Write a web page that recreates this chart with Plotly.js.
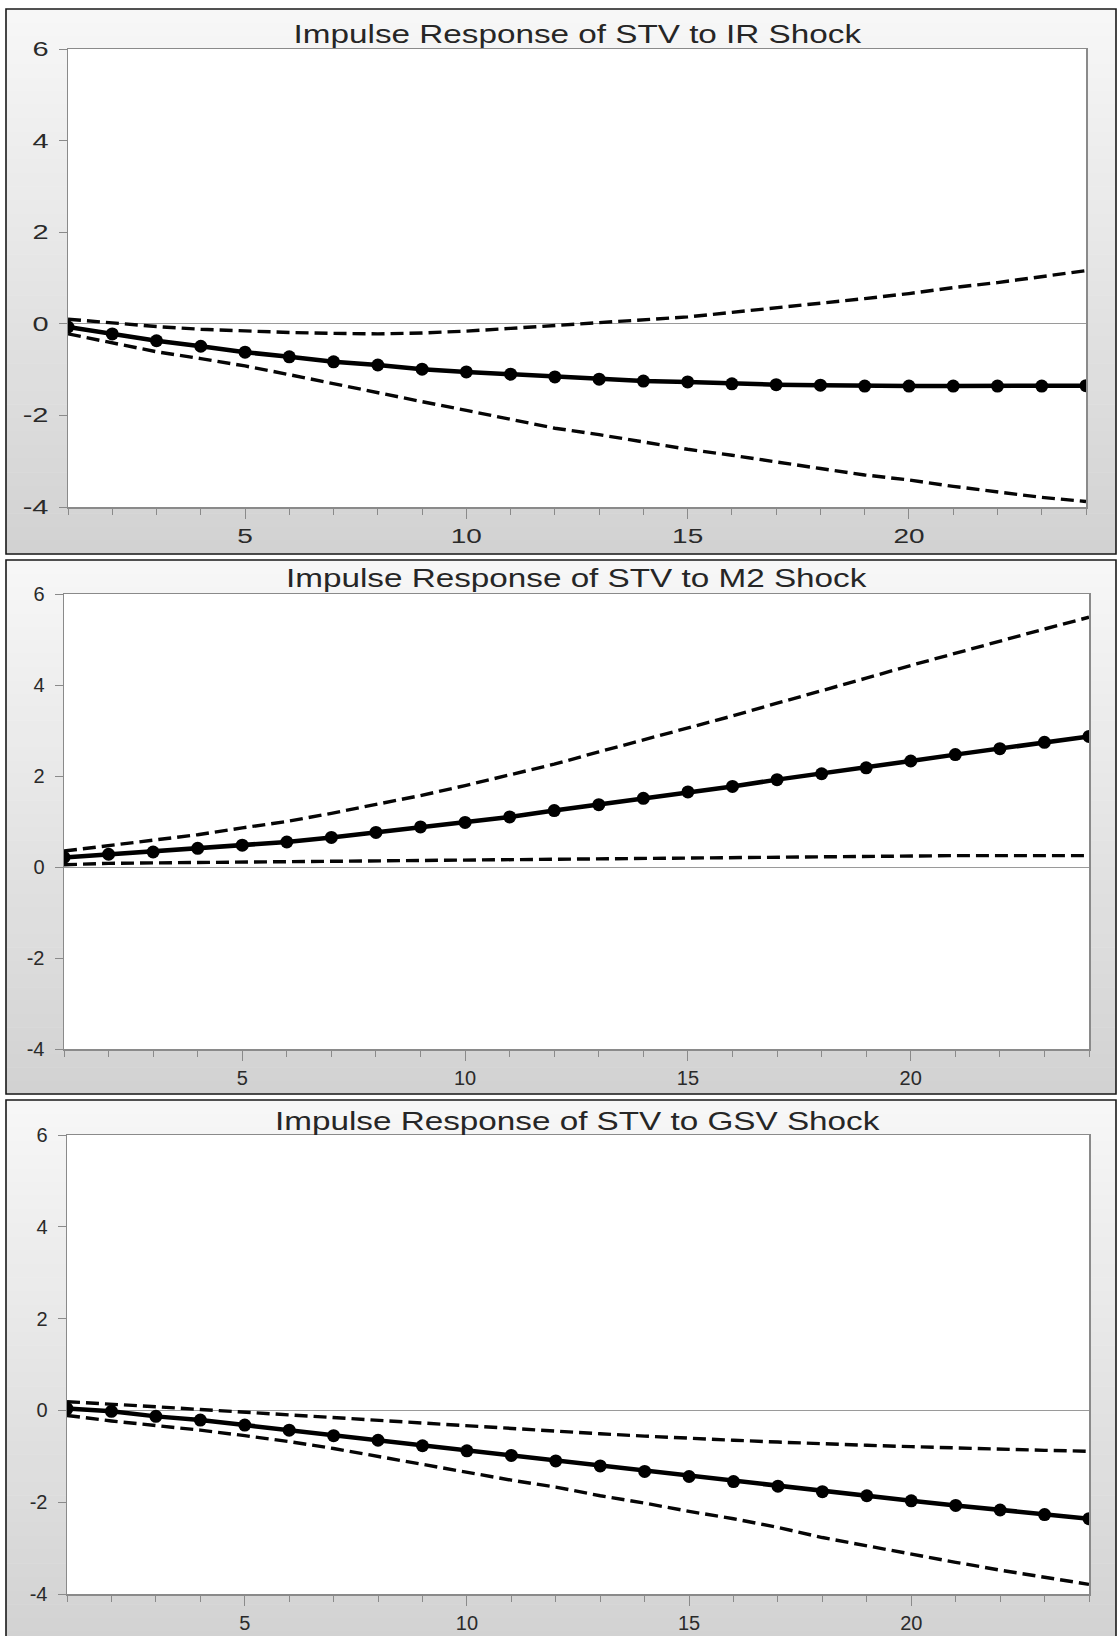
<!DOCTYPE html>
<html>
<head>
<meta charset="utf-8">
<script src="https://cdn.plot.ly/plotly-3.0.1.min.js"></script>
<style>
html, body { margin: 0; padding: 0; background: #ffffff; }
#chart { width: 1118px; height: 1636px; }
</style>
</head>
<body>
<div id="chart"></div>
<script>
// ---------------- data ----------------
const periods = [1,2,3,4,5,6,7,8,9,10,11,12,13,14,15,16,17,18,19,20,21,22,23,24];

const panelTitles = [
  "Impulse Response of STV to IR Shock",
  "Impulse Response of STV to M2 Shock",
  "Impulse Response of STV to GSV Shock"
];

const irResponse = [-0.07,-0.22,-0.37,-0.49,-0.62,-0.72,-0.83,-0.90,-0.99,-1.05,-1.10,-1.16,-1.21,-1.25,-1.27,-1.31,-1.33,-1.34,-1.36,-1.36,-1.36,-1.36,-1.36,-1.35];
const irUpper    = [0.10,0.02,-0.06,-0.12,-0.16,-0.19,-0.21,-0.22,-0.20,-0.16,-0.10,-0.04,0.02,0.08,0.15,0.25,0.35,0.44,0.55,0.66,0.79,0.90,1.03,1.16];
const irLower    = [-0.22,-0.41,-0.61,-0.76,-0.92,-1.11,-1.31,-1.50,-1.70,-1.89,-2.09,-2.28,-2.42,-2.58,-2.74,-2.87,-3.02,-3.16,-3.30,-3.41,-3.55,-3.67,-3.79,-3.88];

const m2Response = [0.21,0.28,0.33,0.41,0.48,0.55,0.65,0.76,0.88,0.98,1.10,1.24,1.37,1.51,1.65,1.77,1.92,2.05,2.18,2.33,2.47,2.60,2.74,2.87];
const m2Upper    = [0.35,0.47,0.58,0.71,0.86,1.00,1.18,1.37,1.57,1.79,2.02,2.26,2.53,2.79,3.05,3.32,3.60,3.87,4.15,4.43,4.70,4.96,5.23,5.49];
const m2Lower    = [0.05,0.08,0.09,0.10,0.10,0.11,0.12,0.13,0.14,0.15,0.16,0.17,0.18,0.19,0.20,0.21,0.22,0.23,0.24,0.24,0.25,0.25,0.25,0.25];

const gsvResponse = [0.04,-0.02,-0.13,-0.21,-0.32,-0.43,-0.55,-0.65,-0.77,-0.88,-0.98,-1.10,-1.21,-1.33,-1.44,-1.55,-1.65,-1.77,-1.86,-1.97,-2.07,-2.17,-2.27,-2.36];
const gsvUpper    = [0.19,0.14,0.08,0.02,-0.04,-0.10,-0.16,-0.22,-0.28,-0.34,-0.40,-0.46,-0.51,-0.56,-0.61,-0.65,-0.69,-0.73,-0.76,-0.79,-0.82,-0.85,-0.87,-0.89];
const gsvLower    = [-0.11,-0.23,-0.33,-0.43,-0.55,-0.68,-0.83,-1.00,-1.17,-1.34,-1.52,-1.67,-1.86,-2.02,-2.20,-2.36,-2.55,-2.77,-2.95,-3.14,-3.31,-3.48,-3.64,-3.79];

const xTickVals = [5,10,15,20];
const xTickText = ["5","10","15","20"];
const yTickVals = [-4,-2,0,2,4,6];
const yTickText = ["-4","-2","0","2","4","6"];

// ---------------- layout helpers ----------------
const W = 1118, H = 1636;
const px2x = p => p / W;
const py2y = p => 1 - p / H;

// plot areas in pixels: [left, right, top, bottom]
const plotBoxes = [
  [68, 1086, 49, 507],
  [64, 1089, 594, 1049],
  [67, 1089, 1135, 1594]
];
// outer panel frames in pixels: [left, right, top, bottom]
const panelBoxes = [
  [6, 1116, 9, 554],
  [6, 1116, 560, 1094],
  [6, 1116, 1100, 1645]
];
const titleCenters = [34, 578, 1121];

const FONT = "Liberation Sans, Arial, Helvetica, sans-serif";

const series = [
  [irResponse, irUpper, irLower],
  [m2Response, m2Upper, m2Lower],
  [gsvResponse, gsvUpper, gsvLower]
];

const data = [];
const layout = {
  width: W, height: H,
  margin: {l: 0, r: 0, t: 0, b: 0, pad: 0},
  paper_bgcolor: "#ffffff",
  plot_bgcolor: "rgb(255,255,254)",
  showlegend: false,
  shapes: [],
  annotations: [],
  font: {family: FONT, color: "#2a2a2a"}
};

series.forEach((s, i) => {
  const n = i === 0 ? "" : String(i + 1);
  const xa = "x" + n, ya = "y" + n;
  const [resp, up, lo] = s;
  const dashLine = {color: "#050505", width: 3.4, dash: "13px,6px"};
  data.push({x: periods, y: up, xaxis: xa, yaxis: ya, type: "scatter", mode: "lines", line: dashLine, hoverinfo: "skip"});
  data.push({x: periods, y: lo, xaxis: xa, yaxis: ya, type: "scatter", mode: "lines", line: dashLine, hoverinfo: "skip"});
  data.push({x: periods, y: resp, xaxis: xa, yaxis: ya, type: "scatter", mode: "lines+markers",
             line: {color: "#000000", width: 4.5}, marker: {color: "#000000", size: 13}, hoverinfo: "skip"});

  const [l, r, t, b] = plotBoxes[i];
  layout["xaxis" + n] = {
    domain: [px2x(l), px2x(r)],
    anchor: ya,
    range: [1, 24],
    tickmode: "array", tickvals: xTickVals, ticktext: xTickText,
    ticks: "outside", ticklen: 10, tickwidth: 1, tickcolor: "#8a8a8a",
    minor: {tickmode: "linear", tick0: 0, dtick: 1, ticks: "outside", ticklen: 6, tickwidth: 1, tickcolor: "#8a8a8a"},
    showline: true, linecolor: "#8a8a8a", linewidth: 1.5, mirror: true,
    showgrid: false, zeroline: false,
    tickfont: {family: FONT, size: 20, color: "#2a2a2a"},
    ticklabelstandoff: 0,
    fixedrange: true
  };
  layout["yaxis" + n] = {
    domain: [py2y(b), py2y(t)],
    anchor: xa,
    range: [-4, 6],
    tickmode: "array", tickvals: yTickVals, ticktext: yTickText,
    ticks: "outside", ticklen: 8, tickwidth: 1, tickcolor: "#8a8a8a",
    showline: true, linecolor: "#8a8a8a", linewidth: 1.5, mirror: true,
    showgrid: false,
    zeroline: true, zerolinecolor: "#9a9a9a", zerolinewidth: 1,
    tickfont: {family: FONT, size: 20, color: "#2a2a2a"},
    ticklabelstandoff: 6,
    fixedrange: true
  };

  // gradient panel background (bands)
  const [pl, pr, pt, pb] = panelBoxes[i];
  const nb = 40;
  const c0 = 247, c1 = 210;
  for (let k = 0; k < nb; k++) {
    const y0 = pt + (pb - pt) * k / nb;
    const y1 = pt + (pb - pt) * (k + 1) / nb + 0.5;
    const c = Math.round(c0 + (c1 - c0) * (k + 0.5) / nb);
    layout.shapes.push({type: "rect", xref: "paper", yref: "paper", layer: "below",
      x0: px2x(pl), x1: px2x(pr), y0: py2y(y0), y1: py2y(y1),
      fillcolor: `rgb(${c},${c},${c})`, line: {width: 0}});
  }
  // white plot area
  layout.shapes.push({type: "rect", xref: "paper", yref: "paper", layer: "below",
    x0: px2x(l), x1: px2x(r), y0: py2y(b), y1: py2y(t),
    fillcolor: "#ffffff", line: {width: 0}});
  // panel frame
  layout.shapes.push({type: "rect", xref: "paper", yref: "paper", layer: "below",
    x0: px2x(pl), x1: px2x(pr), y0: py2y(pt), y1: py2y(pb),
    fillcolor: "rgba(0,0,0,0)", line: {color: "#1a1a1a", width: 1.6}});

  layout.annotations.push({
    text: panelTitles[i], xref: "paper", yref: "paper",
    x: px2x((l + r) / 2), y: py2y(titleCenters[i]),
    xanchor: "center", yanchor: "middle", showarrow: false,
    font: {family: FONT, size: 25, color: "#262626"}
  });
});

function stretch(nodes, k) {
  nodes.forEach(t => {
    const w = t.getComputedTextLength();
    if (w > 0) {
      t.setAttribute("textLength", (w * k).toFixed(1));
      t.setAttribute("lengthAdjust", "spacingAndGlyphs");
    }
  });
}

Plotly.newPlot("chart", data, layout, {staticPlot: true, responsive: false, displayModeBar: false}).then(gd => {
  stretch(gd.querySelectorAll(".xtick text"), 1.4);
  stretch(gd.querySelectorAll(".ytick text"), 1.45);
  stretch(gd.querySelectorAll(".annotation-text"), 1.33);
});
</script>
</body>
</html>
